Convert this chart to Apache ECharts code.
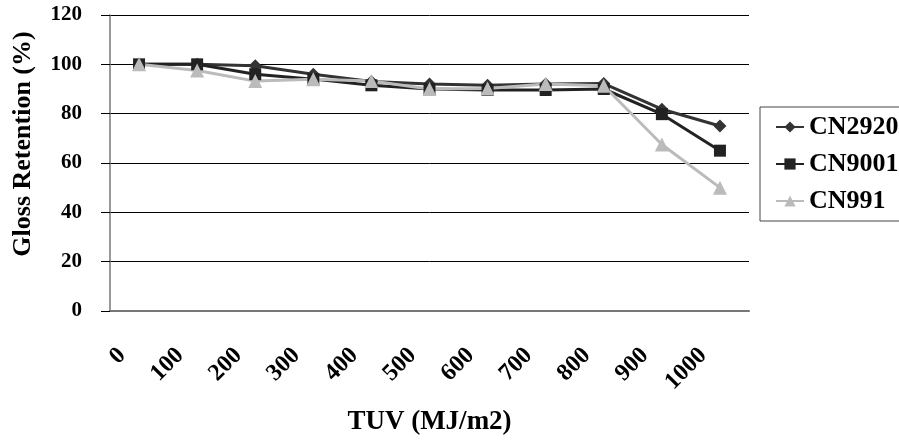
<!DOCTYPE html>
<html>
<head>
<meta charset="utf-8">
<script src="https://cdn.jsdelivr.net/npm/echarts@6/dist/echarts.min.js"></script>
<style>
  html, body { margin: 0; padding: 0; background: #fff; }
  #chart { width: 899px; height: 443px; }
</style>
</head>
<body>
<div id="chart"></div>
<script>
  // x categories (TUV, MJ/m2)
  const tuv = ['0', '100', '200', '300', '400', '500', '600', '700', '800', '900', '1000'];
  // gloss retention (%)
  const cn2920 = [100, 100, 99.4, 96, 93, 92, 91.5, 92, 92.2, 81.8, 75];
  const cn9001 = [100, 100, 96, 94, 91.5, 90, 89.6, 89.6, 90, 79.8, 65];
  const cn991 = [100, 97.5, 93.2, 94, 93.2, 90, 90.2, 92, 91.3, 67.5, 50];
  const yTicks = [0, 20, 40, 60, 80, 100, 120];

  const font = 'Liberation Serif';
  let chart = echarts.init(document.getElementById('chart'));

  chart.setOption({
    animation: false,
    backgroundColor: '#fff',
    grid: { left: 110, right: 150, top: 15, bottom: 132 },
    legend: {
      orient: 'vertical',
      left: 760,
      top: 107,
      padding: [7, 10, 7, 15],
      itemGap: 11,
      itemWidth: 28,
      itemHeight: 14,
      borderColor: '#444',
      borderWidth: 1,
      textStyle: { fontFamily: font, fontWeight: 'bold', fontSize: 26, color: '#000' },
      data: ['CN2920', 'CN9001', 'CN991']
    },
    xAxis: {
      type: 'category',
      data: tuv,
      boundaryGap: true,
      name: 'TUV (MJ/m2)',
      nameLocation: 'middle',
      nameGap: 98,
      nameTextStyle: { fontFamily: font, fontWeight: 'bold', fontSize: 27, color: '#000' },
      axisLine: { lineStyle: { color: '#777', width: 2 } },
      axisTick: { alignWithLabel: false, length: 7, lineStyle: { color: '#000', width: 1 } },
      axisLabel: {
        rotate: 45,
        interval: 0,
        margin: 24,
        padding: [0, 24, 0, 0],
        fontFamily: font,
        fontWeight: 'bold',
        fontSize: 24,
        color: '#000'
      },
      splitLine: { show: false }
    },
    yAxis: {
      type: 'value',
      min: yTicks[0],
      max: yTicks[yTicks.length - 1],
      interval: 20,
      name: 'Gloss Retention (%)',
      nameLocation: 'middle',
      nameGap: 74,
      nameTextStyle: {
        fontFamily: font, fontWeight: 'bold', fontSize: 26, color: '#000',
        padding: [0, 0, 0, 38]
      },
      axisLine: { show: true, lineStyle: { color: '#777', width: 1.5 } },
      axisTick: { show: true, length: 9, lineStyle: { color: '#000', width: 1 } },
      axisLabel: { margin: 28, fontFamily: font, fontWeight: 'bold', fontSize: 21, color: '#000' },
      splitLine: { lineStyle: { color: '#000', width: 1 } }
    },
    series: [{
      name: 'CN2920',
      type: 'line',
      data: cn2920,
      symbol: 'diamond',
      symbolSize: 13,
      color: '#333',
      lineStyle: { color: '#333', width: 3 },
      itemStyle: { color: '#333' }
    }, {
      name: 'CN9001',
      type: 'line',
      data: cn9001,
      symbol: 'rect',
      symbolSize: 12,
      color: '#222',
      lineStyle: { color: '#222', width: 3 },
      itemStyle: { color: '#222' }
    }, {
      name: 'CN991',
      type: 'line',
      data: cn991,
      symbol: 'triangle',
      symbolSize: 14,
      color: '#bbb',
      lineStyle: { color: '#bbb', width: 3 },
      itemStyle: { color: '#bbb' }
    }]
  });
</script>
</body>
</html>
